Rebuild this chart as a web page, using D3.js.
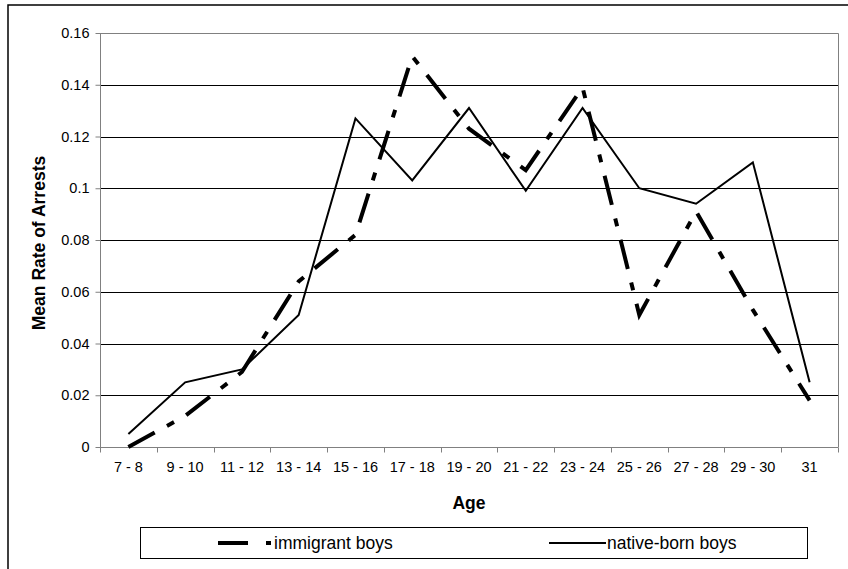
<!DOCTYPE html>
<html><head><meta charset="utf-8">
<script src="https://cdn.jsdelivr.net/npm/d3@7"></script>
<style>body{margin:0;background:#fff}svg{display:block}text{font-family:"Liberation Sans",Arial,sans-serif}</style>
</head><body>
<svg id="c" width="848" height="569"></svg>
<script>
const categories = ["7 - 8","9 - 10","11 - 12","13 - 14","15 - 16","17 - 18","19 - 20","21 - 22","23 - 24","25 - 26","27 - 28","29 - 30","31"];
const immigrantBoys = [0, 0.012, 0.029, 0.064, 0.082, 0.151, 0.123, 0.107, 0.139, 0.051, 0.091, 0.053, 0.018];
const nativeBornBoys = [0.005, 0.025, 0.030, 0.051, 0.127, 0.103, 0.131, 0.099, 0.131, 0.100, 0.094, 0.110, 0.025];
const yTicks = [0, 0.02, 0.04, 0.06, 0.08, 0.1, 0.12, 0.14, 0.16];
const seriesNames = ["immigrant boys", "native-born boys"];

const svg = d3.select("#c");
const L = 100, R = 838, T = 33, B = 447;
const x = d3.scaleBand().domain(categories).range([L, R]);
const y = d3.scaleLinear().domain([0, 0.16]).range([B, T]);
const FF = '"Liberation Sans",Arial,sans-serif';

// outer border
svg.append("rect").attr("x", 8).attr("y", 5).attr("width", 845).attr("height", 575)
  .attr("fill", "none").attr("stroke", "#000").attr("stroke-width", 1.5);

// gridlines
svg.append("g").selectAll("line").data(yTicks.filter(d => d > 0 && d < 0.16)).join("line")
  .attr("x1", L).attr("x2", R).attr("y1", d => Math.round(y(d)) + 0.5).attr("y2", d => Math.round(y(d)) + 0.5)
  .attr("stroke", "#000").attr("stroke-width", 1);

// plot border top/right gray
svg.append("path").attr("d", `M${L},${T + 0.5}H${R + 0.5}V${B}`).attr("fill", "none")
  .attr("stroke", "#808080").attr("stroke-width", 1);

// y axis
const yAxis = d3.axisLeft(y).tickValues(yTicks).tickSize(5).tickPadding(6)
  .tickFormat(d => String(+d.toFixed(2)));
const gy = svg.append("g").attr("transform", `translate(${L + 0.5},0)`).call(yAxis);
gy.select(".domain").attr("stroke", "#808080").attr("d", `M0,${T}V${B + 0.5}`);
gy.selectAll(".tick line").attr("stroke", "#808080");
gy.selectAll("text").attr("font-size", 14.5).attr("fill", "#000").style("font-family", FF);

// x axis
const xAxis = d3.axisBottom(x).tickSize(0).tickPadding(14);
const gx = svg.append("g").attr("transform", `translate(0,${B + 0.5})`).call(xAxis);
gx.select(".domain").attr("stroke", "#808080").attr("d", `M${L},0H${R + 0.5}`);
gx.selectAll("text").attr("font-size", 14.5).attr("fill", "#000").style("font-family", FF);
// category boundary ticks
const bounds = categories.map(c => x(c)).concat([R]);
gx.append("g").selectAll("line").data(bounds).join("line")
  .attr("x1", d => Math.round(d) + 0.5).attr("x2", d => Math.round(d) + 0.5).attr("y1", 0).attr("y2", 5)
  .attr("stroke", "#808080");

// axis titles
svg.append("text").attr("x", (L + R) / 2).attr("y", 509).attr("text-anchor", "middle")
  .attr("font-size", 17.5).attr("font-weight", "bold").text("Age");
svg.append("text").attr("transform", `translate(45,243) rotate(-90)`).attr("text-anchor", "middle")
  .attr("font-size", 17.5).attr("font-weight", "bold").text("Mean Rate of Arrests");

// lines
const cx = c => x(c) + x.bandwidth() / 2;
const line = d3.line().x((d, i) => cx(categories[i])).y(d => y(d));
const dashPattern = "30,14,8,14";
svg.append("path").datum(nativeBornBoys).attr("d", line).attr("fill", "none")
  .attr("stroke", "#000").attr("stroke-width", 2).attr("stroke-linejoin", "miter");
svg.append("path").datum(immigrantBoys).attr("d", line).attr("fill", "none")
  .attr("stroke", "#000").attr("stroke-width", 4).attr("stroke-dasharray", dashPattern);

// legend
const lg = svg.append("g");
lg.append("rect").attr("x", 140.5).attr("y", 527.5).attr("width", 667).attr("height", 31)
  .attr("fill", "#fff").attr("stroke", "#000").attr("stroke-width", 1);
lg.append("line").attr("x1", 218).attr("x2", 271).attr("y1", 543).attr("y2", 543)
  .attr("stroke", "#000").attr("stroke-width", 4).attr("stroke-dasharray", "30,18,5,18");
lg.append("text").attr("x", 274).attr("y", 549).attr("font-size", 17.5).text(seriesNames[0]);
lg.append("line").attr("x1", 549).attr("x2", 606).attr("y1", 543).attr("y2", 543)
  .attr("stroke", "#000").attr("stroke-width", 2);
lg.append("text").attr("x", 607).attr("y", 549).attr("font-size", 17.5).text(seriesNames[1]);
</script>
</body></html>
